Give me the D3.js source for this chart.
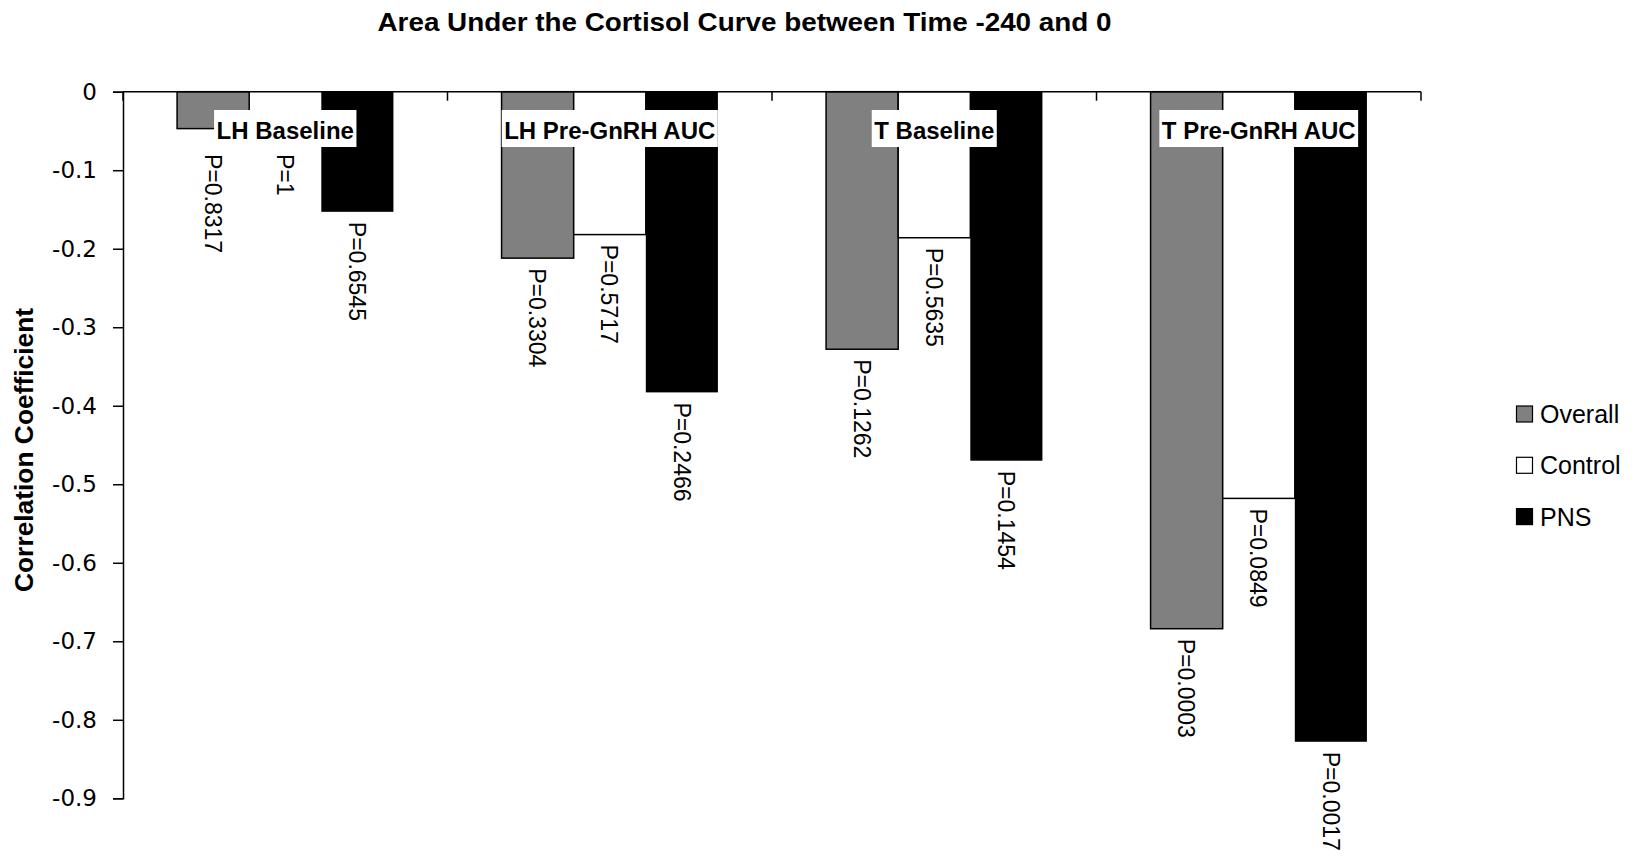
<!DOCTYPE html>
<html>
<head>
<meta charset="utf-8">
<script src="https://cdn.jsdelivr.net/npm/d3@7"></script>
<style>
  html, body { margin: 0; padding: 0; background: #fff; }
  svg { display: block; }
  text { font-family: "Liberation Sans", Arial, sans-serif; fill: #000; }
</style>
</head>
<body>
<svg id="chart" width="1641" height="860"></svg>
<script>
// ---- data ----
const categories = ["LH Baseline", "LH Pre-GnRH AUC", "T Baseline", "T Pre-GnRH AUC"];
const seriesNames = ["Overall", "Control", "PNS"];
const overallValues = [-0.047, -0.212, -0.328, -0.684];
const controlValues = [0, -0.182, -0.186, -0.518];
const pnsValues = [-0.153, -0.383, -0.470, -0.828];
const overallP = ["P=0.8317", "P=0.3304", "P=0.1262", "P=0.0003"];
const controlP = ["P=1", "P=0.5717", "P=0.5635", "P=0.0849"];
const pnsP = ["P=0.6545", "P=0.2466", "P=0.1454", "P=0.0017"];
const yTicks = [0, -0.1, -0.2, -0.3, -0.4, -0.5, -0.6, -0.7, -0.8, -0.9];
const chartTitle = "Area Under the Cortisol Curve between Time -240 and 0";
const yTitle = "Correlation Coefficient";

// ---- build ----
const seriesValues = [overallValues, controlValues, pnsValues];
const seriesP = [overallP, controlP, pnsP];
const fills = { Overall: "#808080", Control: "#ffffff", PNS: "#000000" };

const svg = d3.select("#chart");
const plotLeft = 123, plotRight = 1421, plotTop = 91.7, plotBottom = 798.3;

const x = d3.scaleBand().domain(categories).range([plotLeft, plotRight]).paddingInner(0).paddingOuter(0);
const xs = d3.scaleBand().domain(seriesNames).range([0, x.bandwidth()]).paddingInner(0).paddingOuter(0.75);
const y = d3.scaleLinear().domain([-0.9, 0]).range([plotBottom, plotTop]);

// title
svg.append("text")
  .attr("x", 744.5).attr("y", 31)
  .attr("text-anchor", "middle")
  .style("font-weight", "bold").style("font-size", "25px")
  .attr("textLength", 734).attr("lengthAdjust", "spacingAndGlyphs")
  .text(chartTitle);

// y axis title
svg.append("text")
  .attr("transform", `translate(33,450) rotate(-90)`)
  .attr("text-anchor", "middle")
  .style("font-weight", "bold").style("font-size", "26px")
  .attr("textLength", 284).attr("lengthAdjust", "spacingAndGlyphs")
  .text(yTitle);

// data rows
const rows = [];
categories.forEach((c, i) => {
  seriesNames.forEach((s, j) => {
    rows.push({ cat: c, series: s, value: seriesValues[j][i], p: seriesP[j][i] });
  });
});

// bars
svg.append("g").selectAll("rect").data(rows).join("rect")
  .attr("x", d => x(d.cat) + xs(d.series))
  .attr("width", xs.bandwidth())
  .attr("y", y(0))
  .attr("height", d => y(d.value) - y(0))
  .attr("fill", d => fills[d.series])
  .attr("stroke", "#000")
  .attr("stroke-width", d => d.series === "PNS" ? 0 : 1.5);

// y axis
const yAxis = d3.axisLeft(y).tickValues(yTicks)
  .tickFormat(d => d === 0 ? "0" : d.toFixed(1))
  .tickSize(10).tickPadding(16);
const gy = svg.append("g").attr("transform", `translate(${plotLeft},0)`).call(yAxis);
gy.select(".domain").attr("stroke", "#000").attr("stroke-width", 1.5);
gy.selectAll(".tick line").attr("stroke", "#000").attr("stroke-width", 1.5);
gy.selectAll(".tick text").style("font-size", "23px").style("font-family", "'DejaVu Sans', sans-serif").attr("fill", "#000");

// x axis (line at zero with boundary ticks pointing down)
const gx = svg.append("g");
gx.append("line").attr("x1", plotLeft).attr("x2", plotRight).attr("y1", y(0)).attr("y2", y(0))
  .attr("stroke", "#000").attr("stroke-width", 1.5);
const boundaries = categories.map(c => x(c)).concat([x(categories[categories.length - 1]) + x.bandwidth()]);
gx.selectAll("line.tk").data(boundaries).join("line").attr("class", "tk")
  .attr("x1", d => d).attr("x2", d => d)
  .attr("y1", y(0)).attr("y2", y(0) + 9)
  .attr("stroke", "#000").attr("stroke-width", 1.5);

// category labels with white boxes
const labelBaseline = 138.5, boxTop = 110, boxBottom = 147;
const catG = svg.append("g");
categories.forEach(c => {
  const cx = x(c) + x.bandwidth() / 2;
  const t = catG.append("text")
    .attr("x", cx).attr("y", labelBaseline)
    .attr("text-anchor", "middle")
    .style("font-weight", "bold").style("font-size", "24px")
    .text(c);
  const w = t.node().getComputedTextLength();
  catG.insert("rect", "text")
    .attr("x", cx - w / 2 - 2.5).attr("width", w + 5)
    .attr("y", boxTop).attr("height", boxBottom - boxTop)
    .attr("fill", "#fff");
});

// P-value labels, rotated to read downward
svg.append("g").selectAll("text").data(rows).join("text")
  .attr("transform", d => {
    const cx = x(d.cat) + xs(d.series) + xs.bandwidth() / 2;
    const y0 = Math.max(y(d.value) + 10, boxBottom + 7);
    return `translate(${cx},${y0}) rotate(90)`;
  })
  .attr("dy", "0.36em")
  .style("font-size", "23px")
  .text(d => d.p);

// legend
const legend = svg.append("g");
seriesNames.forEach((s, i) => {
  const cy = 414 + i * 51.3;
  legend.append("rect")
    .attr("x", 1516.5).attr("y", cy - 8).attr("width", 16).attr("height", 16)
    .attr("fill", fills[s]).attr("stroke", "#000").attr("stroke-width", 1.2);
  legend.append("text")
    .attr("x", 1540).attr("y", cy).attr("dy", "0.36em")
    .style("font-size", "25px")
    .text(s);
});
</script>
</body>
</html>
